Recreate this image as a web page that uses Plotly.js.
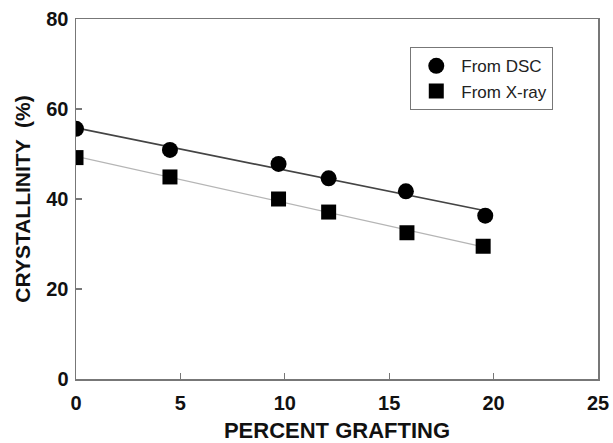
<!DOCTYPE html>
<html>
<head>
<meta charset="utf-8">
<script src="https://cdn.plot.ly/plotly-3.0.1.min.js"></script>
<style>html,body{margin:0;padding:0;background:#fff;}#chart{width:613px;height:443px;}</style>
</head>
<body>
<div id="chart"></div>
<script>
// Data
const graftingDSC = [0, 4.5, 9.7, 12.1, 15.8, 19.6];
const crystDSC    = [55.6, 50.9, 47.8, 44.6, 41.7, 36.3];
const graftingXray = [0, 4.5, 9.7, 12.1, 15.85, 19.5];
const crystXray    = [49.2, 44.9, 40.0, 37.1, 32.5, 29.5];
const xTicks = [0, 5, 10, 15, 20, 25];
const yTicks = [0, 20, 40, 60, 80];

// least-squares trend line, evaluated at the data extremes
function fit(xs, ys) {
  const n = xs.length;
  const mx = xs.reduce((a, b) => a + b, 0) / n;
  const my = ys.reduce((a, b) => a + b, 0) / n;
  let sxy = 0, sxx = 0;
  for (let i = 0; i < n; i++) { sxy += (xs[i] - mx) * (ys[i] - my); sxx += (xs[i] - mx) ** 2; }
  const b = sxy / sxx, a = my - b * mx;
  const x0 = Math.min(...xs), x1 = Math.max(...xs);
  return { x: [x0, x1], y: [a + b * x0, a + b * x1] };
}
const fD = fit(graftingDSC, crystDSC);
const fX = fit(graftingXray, crystXray);

const F = 'Liberation Sans, Arial, sans-serif';
const traces = [
  { x: fD.x, y: fD.y, mode: 'lines', line: { color: '#444', width: 1.7 }, showlegend: false, hoverinfo: 'skip' },
  { x: fX.x, y: fX.y, mode: 'lines', line: { color: '#b5b5b5', width: 1.2 }, showlegend: false, hoverinfo: 'skip' },
  { x: graftingDSC, y: crystDSC, mode: 'markers', name: 'From DSC',
    marker: { symbol: 'circle', size: 16, color: '#000' } },
  { x: graftingXray, y: crystXray, mode: 'markers', name: 'From X-ray',
    marker: { symbol: 'square', size: 15, color: '#000' } }
];

const axisCommon = {
  showgrid: false, zeroline: false,
  showline: true, linecolor: '#777', linewidth: 1.5, mirror: true,
  ticks: 'inside', ticklen: 6, tickwidth: 1.2, tickcolor: '#777',
  tickfont: { family: F, size: 20, color: '#111', weight: 'bold' }
};

const layout = {
  width: 613, height: 443,
  margin: { l: 76, r: 15, t: 19, b: 64 },
  paper_bgcolor: '#fff', plot_bgcolor: '#fff',
  xaxis: Object.assign({}, axisCommon, {
    range: [0, 25], tickvals: xTicks, ticktext: xTicks.map(String),
    ticklabelstandoff: 5,
    title: { text: 'PERCENT GRAFTING', font: { family: F, size: 22, color: '#111', weight: 'bold' }, standoff: 12 }
  }),
  yaxis: Object.assign({}, axisCommon, {
    range: [0, 80], tickvals: yTicks, ticktext: yTicks.map(String),
    ticklabelstandoff: 2,
    title: { text: 'CRYSTALLINITY  (%)', font: { family: F, size: 21, color: '#111', weight: 'bold' }, standoff: 10 }
  }),
  legend: {
    x: 0.64, y: 0.922, xanchor: 'left', yanchor: 'top',
    bgcolor: '#fff', bordercolor: '#777', borderwidth: 1.2,
    font: { family: F, size: 17, color: '#222' },
    itemwidth: 40,
    tracegroupgap: 0
  },
  showlegend: true
};

Plotly.newPlot('chart', traces, layout, { displayModeBar: false, staticPlot: true });
</script>
</body>
</html>
